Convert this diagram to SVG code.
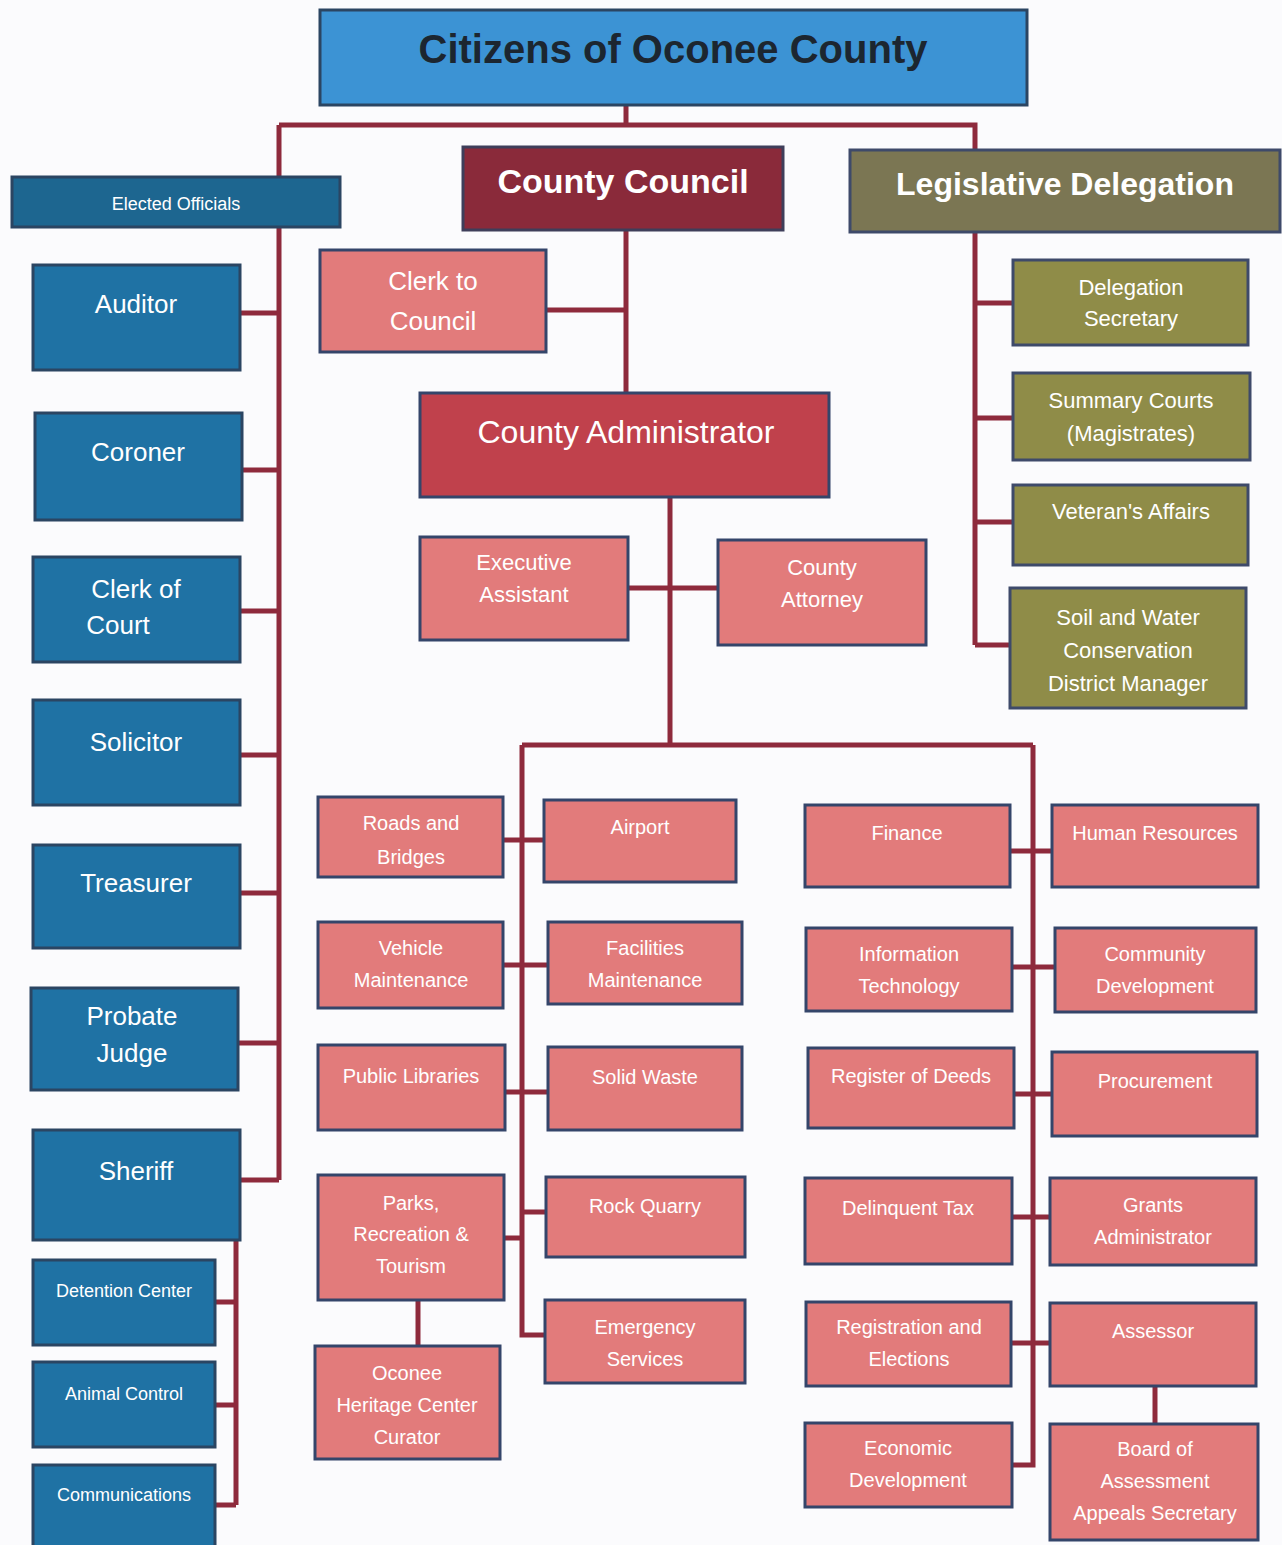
<svg xmlns="http://www.w3.org/2000/svg" width="1282" height="1545" viewBox="0 0 1282 1545">
<style>
.bg{fill:#fbfbfd}
.ln{stroke:#8e2a3c;stroke-width:5;fill:none}
.blue rect{fill:#1f72a4;stroke:#2b4562;stroke-width:3}
.sal rect{fill:#e27b7b;stroke:#34456a;stroke-width:3}
.olv rect{fill:#8f8c48;stroke:#3e4a6a;stroke-width:3}
text{font-family:"Liberation Sans",Arial,sans-serif;fill:#ffffff;text-anchor:middle}
.t26{font-size:26px}
.t22{font-size:22px}
.t20{font-size:20px}
.t18{font-size:18px}
</style>
<rect class="bg" x="0" y="0" width="1282" height="1545"/>
<g id="connectors">
<path class="ln" d="M626 105V125M279 125H975V150"/>
<path class="ln" d="M279 125V1180"/>
<path class="ln" d="M240 313H279M242 470H279M240 611H279M240 755H279M240 893H279M238 1043H279M240 1180H279"/>
<path class="ln" d="M236 1240V1505M215 1302H236M215 1405H236M215 1505H236"/>
<path class="ln" d="M626 230V393M546 310H626"/>
<path class="ln" d="M975 232V645M975 303H1013M975 418H1013M975 522H1013M975 645H1010"/>
<path class="ln" d="M670 497V745M628 588H718"/>
<path class="ln" d="M522 745H1033M522 745V1335H545M1033 745V1465H1012"/>
<path class="ln" d="M503 840H544M503 965H548M505 1092H548M504 1238H522M522 1212H546"/>
<path class="ln" d="M418 1300V1346"/>
<path class="ln" d="M1010 851H1052M1012 967H1055M1014 1094H1052M1012 1217H1050M1011 1343H1050"/>
<path class="ln" d="M1155 1386V1424"/>
</g>
<g id="citizens"><rect x="320" y="10" width="707" height="95" style="fill:#3c93d4;stroke:#2b4562;stroke-width:3"/><text x="673" y="63" style="font-size:40px;font-weight:bold;fill:#1c2630">Citizens of Oconee County</text></g>
<g id="elected" class="blue"><rect x="12" y="177" width="328" height="50" style="fill:#1d6690"/><text class="t18" x="176" y="210">Elected Officials</text></g>
<g id="council"><rect x="463" y="147" width="320" height="83" style="fill:#8a2a3a;stroke:#3e3e5a;stroke-width:3"/><text x="623" y="193" style="font-size:34px;font-weight:bold">County Council</text></g>
<g id="legdel" class="olv"><rect x="850" y="150" width="430" height="82" style="fill:#7b7653"/><text x="1065" y="195" style="font-size:32px;font-weight:bold">Legislative Delegation</text></g>
<g id="auditor" class="blue"><rect x="33" y="265" width="207" height="105"/><text class="t26" x="136" y="313">Auditor</text></g>
<g id="coroner" class="blue"><rect x="35" y="413" width="207" height="107"/><text class="t26" x="138" y="461">Coroner</text></g>
<g id="clerkcourt" class="blue"><rect x="33" y="557" width="207" height="105"/><text class="t26" x="136" y="598">Clerk of</text><text class="t26" x="118" y="634">Court</text></g>
<g id="solicitor" class="blue"><rect x="33" y="700" width="207" height="105"/><text class="t26" x="136" y="751">Solicitor</text></g>
<g id="treasurer" class="blue"><rect x="33" y="845" width="207" height="103"/><text class="t26" x="136" y="892">Treasurer</text></g>
<g id="probate" class="blue"><rect x="31" y="988" width="207" height="102"/><text class="t26" x="132" y="1025">Probate</text><text class="t26" x="132" y="1062">Judge</text></g>
<g id="sheriff" class="blue"><rect x="33" y="1130" width="207" height="110"/><text class="t26" x="136" y="1180">Sheriff</text></g>
<g id="detention" class="blue"><rect x="33" y="1260" width="182" height="85"/><text class="t18" x="124" y="1297">Detention Center</text></g>
<g id="animal" class="blue"><rect x="33" y="1362" width="182" height="85"/><text class="t18" x="124" y="1400">Animal Control</text></g>
<g id="comm" class="blue"><rect x="33" y="1465" width="182" height="85"/><text class="t18" x="124" y="1501">Communications</text></g>
<g id="clerkcouncil" class="sal"><rect x="320" y="250" width="226" height="102"/><text class="t26" x="433" y="290">Clerk to</text><text class="t26" x="433" y="330">Council</text></g>
<g id="admin" class="sal"><rect x="420" y="393" width="409" height="104" style="fill:#c0414c"/><text x="626" y="443" style="font-size:32px">County Administrator</text></g>
<g id="exec" class="sal"><rect x="420" y="537" width="208" height="103"/><text class="t22" x="524" y="570">Executive</text><text class="t22" x="524" y="602">Assistant</text></g>
<g id="attorney" class="sal"><rect x="718" y="540" width="208" height="105"/><text class="t22" x="822" y="575">County</text><text class="t22" x="822" y="607">Attorney</text></g>
<g id="delsec" class="olv"><rect x="1013" y="260" width="235" height="85"/><text class="t22" x="1131" y="295">Delegation</text><text class="t22" x="1131" y="326">Secretary</text></g>
<g id="summary" class="olv"><rect x="1013" y="373" width="237" height="87"/><text class="t22" x="1131" y="408">Summary Courts</text><text class="t22" x="1131" y="441">(Magistrates)</text></g>
<g id="veteran" class="olv"><rect x="1013" y="485" width="235" height="80"/><text class="t22" x="1131" y="519">Veteran's Affairs</text></g>
<g id="soil" class="olv"><rect x="1010" y="588" width="236" height="120"/><text class="t22" x="1128" y="625">Soil and Water</text><text class="t22" x="1128" y="658">Conservation</text><text class="t22" x="1128" y="691">District Manager</text></g>
<g id="roads" class="sal"><rect x="318" y="797" width="185" height="80"/><text class="t20" x="411" y="830">Roads and</text><text class="t20" x="411" y="864">Bridges</text></g>
<g id="airport" class="sal"><rect x="544" y="800" width="192" height="82"/><text class="t20" x="640" y="834">Airport</text></g>
<g id="vehicle" class="sal"><rect x="318" y="922" width="185" height="86"/><text class="t20" x="411" y="955">Vehicle</text><text class="t20" x="411" y="987">Maintenance</text></g>
<g id="facilities" class="sal"><rect x="548" y="922" width="194" height="82"/><text class="t20" x="645" y="955">Facilities</text><text class="t20" x="645" y="987">Maintenance</text></g>
<g id="libraries" class="sal"><rect x="318" y="1045" width="187" height="85"/><text class="t20" x="411" y="1083">Public Libraries</text></g>
<g id="solid" class="sal"><rect x="548" y="1047" width="194" height="83"/><text class="t20" x="645" y="1084">Solid Waste</text></g>
<g id="parks" class="sal"><rect x="318" y="1175" width="186" height="125"/><text class="t20" x="411" y="1210">Parks,</text><text class="t20" x="411" y="1241">Recreation &amp;</text><text class="t20" x="411" y="1273">Tourism</text></g>
<g id="quarry" class="sal"><rect x="546" y="1177" width="199" height="80"/><text class="t20" x="645" y="1213">Rock Quarry</text></g>
<g id="heritage" class="sal"><rect x="315" y="1346" width="185" height="113"/><text class="t20" x="407" y="1380">Oconee</text><text class="t20" x="407" y="1412">Heritage Center</text><text class="t20" x="407" y="1444">Curator</text></g>
<g id="emergency" class="sal"><rect x="545" y="1300" width="200" height="83"/><text class="t20" x="645" y="1334">Emergency</text><text class="t20" x="645" y="1366">Services</text></g>
<g id="finance" class="sal"><rect x="805" y="805" width="205" height="82"/><text class="t20" x="907" y="840">Finance</text></g>
<g id="hr" class="sal"><rect x="1052" y="805" width="206" height="82"/><text class="t20" x="1155" y="840">Human Resources</text></g>
<g id="it" class="sal"><rect x="806" y="928" width="206" height="83"/><text class="t20" x="909" y="961">Information</text><text class="t20" x="909" y="993">Technology</text></g>
<g id="community" class="sal"><rect x="1055" y="928" width="201" height="84"/><text class="t20" x="1155" y="961">Community</text><text class="t20" x="1155" y="993">Development</text></g>
<g id="deeds" class="sal"><rect x="808" y="1048" width="206" height="80"/><text class="t20" x="911" y="1083">Register of Deeds</text></g>
<g id="procurement" class="sal"><rect x="1052" y="1052" width="205" height="84"/><text class="t20" x="1155" y="1088">Procurement</text></g>
<g id="delinquent" class="sal"><rect x="805" y="1178" width="207" height="86"/><text class="t20" x="908" y="1215">Delinquent Tax</text></g>
<g id="grants" class="sal"><rect x="1050" y="1178" width="206" height="87"/><text class="t20" x="1153" y="1212">Grants</text><text class="t20" x="1153" y="1244">Administrator</text></g>
<g id="registration" class="sal"><rect x="806" y="1302" width="205" height="84"/><text class="t20" x="909" y="1334">Registration and</text><text class="t20" x="909" y="1366">Elections</text></g>
<g id="assessor" class="sal"><rect x="1050" y="1303" width="206" height="83"/><text class="t20" x="1153" y="1338">Assessor</text></g>
<g id="economic" class="sal"><rect x="805" y="1423" width="207" height="84"/><text class="t20" x="908" y="1455">Economic</text><text class="t20" x="908" y="1487">Development</text></g>
<g id="board" class="sal"><rect x="1050" y="1424" width="208" height="116"/><text class="t20" x="1155" y="1456">Board of</text><text class="t20" x="1155" y="1488">Assessment</text><text class="t20" x="1155" y="1520">Appeals Secretary</text></g>
</svg>
